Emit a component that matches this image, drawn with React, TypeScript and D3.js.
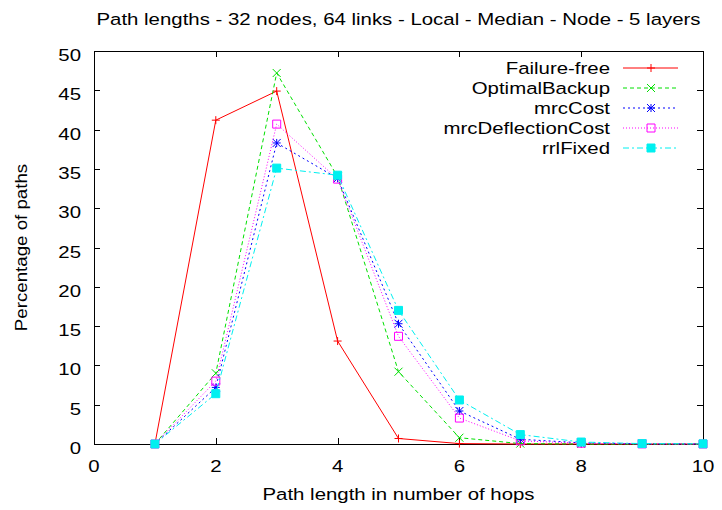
import React, {useEffect, useRef} from 'react';
import * as d3 from 'd3';

const hops = [1, 2, 3, 4, 5, 6, 7, 8, 9, 10];
const failureFree = [0, 41.2, 44.9, 13.1, 0.7, 0.05, 0, 0, 0, 0];
const optimalBackup = [0, 9.0, 47.2, 34.0, 9.2, 0.8, 0.05, 0, 0, 0];
const mrcCost = [0, 7.2, 38.3, 33.8, 15.3, 4.2, 0.6, 0.15, 0.02, 0];
const mrcDeflectionCost = [0, 8.0, 40.7, 33.7, 13.7, 3.3, 0.4, 0.1, 0.01, 0];
const rrlFixed = [0, 6.4, 35.1, 34.2, 17.0, 5.6, 1.2, 0.25, 0.05, 0.02];

const xTicks = [0, 2, 4, 6, 8, 10];
const yTicks = [0, 5, 10, 15, 20, 25, 30, 35, 40, 45, 50];

const series = [
  {name: 'Failure-free', values: failureFree, color: '#ff0000', dash: null, mark: 'plus'},
  {name: 'OptimalBackup', values: optimalBackup, color: '#00e000', dash: '4,3', mark: 'cross'},
  {name: 'mrcCost', values: mrcCost, color: '#0000ff', dash: '2,3', mark: 'star'},
  {name: 'mrcDeflectionCost', values: mrcDeflectionCost, color: '#ff00ff', dash: '1,2', mark: 'box'},
  {name: 'rrlFixed', values: rrlFixed, color: '#00f0f0', dash: '6,3,2,3', mark: 'fbox'},
];

function markPath(kind: string, x: number, y: number) {
  const s = 4;
  const plus = `M${x - s},${y}H${x + s}M${x},${y - s}V${y + s}`;
  const cross = `M${x - s},${y - s}L${x + s},${y + s}M${x - s},${y + s}L${x + s},${y - s}`;
  if (kind === 'plus') return plus;
  if (kind === 'cross') return cross;
  if (kind === 'star') return plus + cross;
  return `M${x - s},${y - s}H${x + s}V${y + s}H${x - s}Z`;
}

function App() {
  const chartRef = useRef(null);

  const width = 722;
  const height = 510;
  const margin = {top: 51, right: 19, bottom: 66, left: 94};

  const xScale = d3.scaleLinear().domain([0, 10]).range([margin.left, width - margin.right]);
  const yScale = d3.scaleLinear().domain([0, 50]).range([height - margin.bottom, margin.top]);

  useEffect(() => {
    document.body.style.margin = '0';
    const svg = d3.select(chartRef.current);
    svg.selectAll('*').remove();
    const font = 'Liberation Sans, Arial, sans-serif';
    const x0 = xScale.range()[0], x1 = xScale.range()[1];
    const y0 = yScale.range()[0], y1 = yScale.range()[1];
    const tl = 6;

    // gnuplot text looks wider than Liberation Sans, so stretch it a bit
    function txt(g: any, x: number, y: number, s: any, anchor: string, sx = 1.2) {
      return g.append('text')
        .attr('transform', `translate(${x},${y}) scale(${sx},1)`)
        .attr('text-anchor', anchor)
        .attr('font-family', font).attr('font-size', 17)
        .text(s);
    }

    // ticks on all four sides, pointing inward
    const ticks = svg.append('g').attr('stroke', '#000').attr('stroke-width', 1);
    xTicks.forEach(t => {
      const x = Math.round(xScale(t)) + 0.5;
      ticks.append('line').attr('x1', x).attr('x2', x).attr('y1', y0).attr('y2', y0 - tl);
      ticks.append('line').attr('x1', x).attr('x2', x).attr('y1', y1).attr('y2', y1 + tl);
    });
    yTicks.forEach(t => {
      const y = Math.round(yScale(t)) + 0.5;
      ticks.append('line').attr('x1', x0).attr('x2', x0 + tl).attr('y1', y).attr('y2', y);
      ticks.append('line').attr('x1', x1).attr('x2', x1 - tl).attr('y1', y).attr('y2', y);
    });

    svg.append('rect')
      .attr('x', x0 + 0.5).attr('y', y1 + 0.5)
      .attr('width', x1 - x0).attr('height', y0 - y1)
      .attr('fill', 'none').attr('stroke', '#000');

    const labels = svg.append('g');
    xTicks.forEach(t => txt(labels, xScale(t), y0 + 28, t, 'middle'));
    yTicks.forEach(t => txt(labels, x0 - 13, yScale(t) + 10, t, 'end'));

    txt(svg, (x0 + x1) / 2, 25, 'Path lengths - 32 nodes, 64 links - Local - Median - Node - 5 layers', 'middle');
    txt(svg, (x0 + x1) / 2, 500, 'Path length in number of hops', 'middle');

    svg.append('text')
      .attr('transform', `translate(27, ${(y0 + y1) / 2}) rotate(-90) scale(1.1,1)`)
      .attr('text-anchor', 'middle')
      .attr('font-family', font).attr('font-size', 17)
      .text('Percentage of paths');

    const line = d3.line<number>()
      .x((d, i) => xScale(hops[i]))
      .y(d => yScale(d));

    series.forEach((s, k) => {
      const g = svg.append('g');
      g.append('path')
        .attr('d', line(s.values))
        .attr('fill', 'none')
        .attr('stroke', s.color)
        .attr('stroke-width', 1)
        .attr('stroke-dasharray', s.dash);
      g.selectAll('path.mark').data(s.values).enter().append('path')
        .attr('class', 'mark')
        .attr('d', (d, i) => markPath(s.mark, xScale(hops[i]), yScale(d)))
        .attr('fill', s.mark === 'fbox' ? s.color : 'none')
        .attr('stroke', s.color)
        .attr('stroke-width', 1);

      // legend
      const ly = 68 + k * 20;
      txt(g, 610, ly + 6, s.name, 'end');
      g.append('line')
        .attr('x1', 623).attr('x2', 678).attr('y1', ly).attr('y2', ly)
        .attr('stroke', s.color)
        .attr('stroke-dasharray', s.dash);
      g.append('path')
        .attr('d', markPath(s.mark, 651, ly))
        .attr('fill', s.mark === 'fbox' ? s.color : 'none')
        .attr('stroke', s.color);
    });
  });

  return (
    <svg ref={chartRef} width={width} height={height} style={{display: 'block', background: '#fff'}}/>
  );
}

export default App;
